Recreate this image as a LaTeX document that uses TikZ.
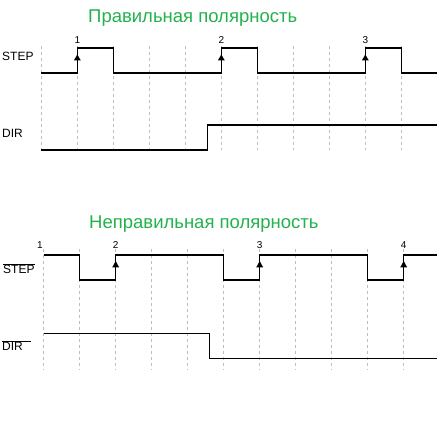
\documentclass[tikz,border=0pt]{standalone}
\usepackage{fontspec}
\setmainfont{Liberation Sans}
\definecolor{titlegreen}{RGB}{34,177,76}
\definecolor{gridgray}{RGB}{190,190,190}
\newcommand{\inv}[1]{$\overline{\mbox{#1}}$}
\tikzset{
  signal/.style={line width=1.5pt, line join=miter},
  gridline/.style={gridgray, line width=0.9pt, dash pattern=on 3pt off 3pt},
  heading/.style={titlegreen, font=\fontsize{18.5}{20}\selectfont, anchor=base west, inner sep=0pt},
  lbl/.style={font=\fontsize{12}{14}\selectfont, anchor=base west, inner sep=0pt},
  num/.style={font=\fontsize{10}{12}\selectfont, anchor=base, inner sep=0pt},
}
\begin{document}
\begin{tikzpicture}[x=1pt, y=-1pt]
  \useasboundingbox (0,0) rectangle (437,427);
  % grids
  \foreach \k in {0,...,10} {
    \draw[gridline] (41.3+36*\k,46) -- (41.3+36*\k,150);
    \draw[gridline] (43.7+36*\k,249) -- (43.7+36*\k,370);
  }
  % titles
  \node[heading] (t1) at (88,23) {Правильная полярность};
  \node[heading] (t2) at (89,229) {Неправильная полярность};
  % correct polarity
  \node[lbl] (step) at (2,61) {STEP};
  \node[lbl] (dir) at (2,137.7) {DIR};
  \draw[signal] (41.3,73) -- (77.3,73) -- (77.3,48) -- (113.3,48) -- (113.3,73)
    -- (221.3,73) -- (221.3,48) -- (257.3,48) -- (257.3,73)
    -- (365.3,73) -- (365.3,48) -- (401.3,48) -- (401.3,73) -- (437,73);
  \draw[signal] (41.3,150) -- (207.7,150) -- (207.7,125) -- (437,125);
  \foreach \x/\n in {77.3/1, 221.3/2, 365.3/3} {
    \fill (\x-3.5,60.5) -- (\x+3.5,60.5) -- (\x,54.5) -- cycle;
    \node[num] (a\n) at (\x,44) {\n};
  }
  % wrong polarity
  \node[lbl] (nstep) at (3,274) {\inv{STEP}};
  \node[lbl] (ndir) at (2,350.7) {\inv{DIR\hspace{8pt}}};
  \draw[signal] (43.7,255) -- (79.7,255) -- (79.7,280) -- (115.7,280) -- (115.7,255)
    -- (223.7,255) -- (223.7,280) -- (259.7,280) -- (259.7,255)
    -- (367.7,255) -- (367.7,280) -- (403.7,280) -- (403.7,255) -- (437,255);
  \draw[signal] (43.7,333.3) -- (209.3,333.3) -- (209.3,358.3) -- (437,358.3);
  \foreach \x in {115.7, 259.7, 403.7} {
    \fill (\x-3.5,267.5) -- (\x+3.5,267.5) -- (\x,261) -- cycle;
  }
  \foreach \x/\n in {40/1, 115.7/2, 259.7/3, 403.7/4} {
    \node[num] (b\n) at (\x,249) {\n};
  }
\end{tikzpicture}
\end{document}
